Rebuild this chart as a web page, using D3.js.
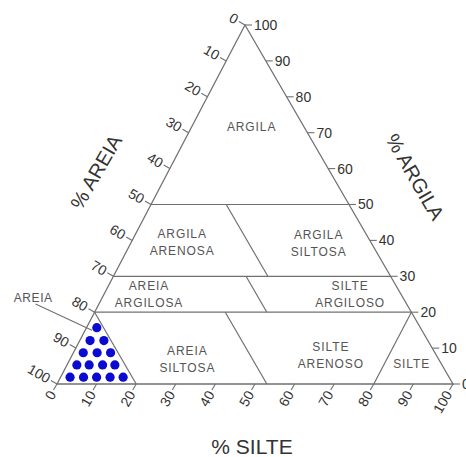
<!DOCTYPE html>
<meta charset="utf-8">
<style>
  body { margin: 0; background: #fff; }
  text { font-family: Arial, "Liberation Sans", sans-serif; }
</style>
<body>
<script src="https://d3js.org/d3.v7.min.js"></script>
<script>

// tick values along each side
var ticks = [0, 10, 20, 30, 40, 50, 60, 70, 80, 90, 100];

// class boundaries, as [clay, silt] end points (sand = 100 - clay - silt)
var boundaryStart = [[50, 0], [30, 0], [20, 0], [50, 19], [30, 33.5], [20, 33], [20, 80], [20, 0]];
var boundaryEnd   = [[50, 50], [30, 70], [20, 80], [30, 39], [20, 43.5], [0, 53], [0, 80], [0, 20]];

// class names and where they sit (clay, silt)
var regionNames = [["ARGILA"], ["ARGILA", "ARENOSA"], ["ARGILA", "SILTOSA"], ["AREIA", "ARGILOSA"],
                   ["SILTE", "ARGILOSO"], ["AREIA", "SILTOSA"], ["SILTE", "ARENOSO"], ["SILTE"]];
var regionClay = [71.7, 39.6, 39.1, 24.9, 25.1, 7.0, 7.9, 5.6];
var regionSilt = [15.1, 12.8, 47.5, 11.4, 62.1, 29.6, 65.4, 86.9];

// sample points in the AREIA class
var dotClay = [1.9, 1.9, 1.9, 1.9, 1.9, 5.3, 5.3, 5.3, 5.3, 8.7, 8.7, 8.7, 12.1, 12.1, 15.7];
var dotSilt = [2.4, 5.8, 9.1, 12.5, 15.8, 2.5, 5.6, 9.0, 12.1, 2.5, 6.0, 9.4, 2.6, 6.1, 2.6];

var width = 466, height = 457;
var lineColor = "#707070";

// corner of 100% sand sits at left of the base
var x0 = 57;
var siltX = d3.scaleLinear().domain([0, 100]).range([0, 396]);
var clayX = d3.scaleLinear().domain([0, 100]).range([0, 188]);
var clayY = d3.scaleLinear().domain([0, 100]).range([384, 25]);

function pt(clay, silt) {
  return [x0 + siltX(silt) + clayX(clay), clayY(clay)];
}

var svg = d3.select("body").append("svg")
    .attr("width", width)
    .attr("height", height);

// outline
var outline = [pt(0, 0), pt(0, 100), pt(100, 0)];
svg.append("path")
    .attr("d", d3.line()(outline) + "Z")
    .attr("fill", "none")
    .attr("stroke", lineColor)
    .attr("stroke-width", 1.3);

// boundaries
svg.selectAll("line.bound")
    .data(boundaryStart)
  .enter().append("line")
    .attr("class", "bound")
    .attr("x1", function(d) { return pt(d[0], d[1])[0]; })
    .attr("y1", function(d) { return pt(d[0], d[1])[1]; })
    .attr("x2", function(d, i) { return pt(boundaryEnd[i][0], boundaryEnd[i][1])[0]; })
    .attr("y2", function(d, i) { return pt(boundaryEnd[i][0], boundaryEnd[i][1])[1]; })
    .attr("stroke", lineColor)
    .attr("stroke-width", 1.2);

// ticks on the three sides
var tickLen = 7, gap = 2;
var sides = [
  { pos: function(v) { return pt(v, 100 - v); }, dir: [1, 0], rot: 0, anchor: "start" },          // clay (right)
  { pos: function(v) { return pt(100 - v, 0); }, dir: [-Math.cos(Math.PI / 6), -0.5], rot: 30, anchor: "end" }, // sand (left)
  { pos: function(v) { return pt(0, v); }, dir: [-0.5, Math.sin(Math.PI / 3)], rot: -60, anchor: "end" }  // silt (bottom)
];

sides.forEach(function(s) {
  var g = svg.append("g");
  ticks.forEach(function(v) {
    var p = s.pos(v);
    var e = [p[0] + s.dir[0] * tickLen, p[1] + s.dir[1] * tickLen];
    var t = [p[0] + s.dir[0] * (tickLen + gap), p[1] + s.dir[1] * (tickLen + gap)];
    g.append("line")
        .attr("x1", p[0]).attr("y1", p[1])
        .attr("x2", e[0]).attr("y2", e[1])
        .attr("stroke", lineColor)
        .attr("stroke-width", 1.1);
    g.append("text")
        .attr("transform", "translate(" + t[0] + "," + t[1] + ") rotate(" + s.rot + ")")
        .attr("text-anchor", s.anchor)
        .attr("dy", "0.35em")
        .style("font-size", "14px")
        .style("fill", "#333")
        .text(v);
  });
});

// dots
svg.selectAll("circle")
    .data(dotClay)
  .enter().append("circle")
    .attr("cx", function(d, i) { return pt(d, dotSilt[i])[0]; })
    .attr("cy", function(d, i) { return pt(d, dotSilt[i])[1]; })
    .attr("r", 4.6)
    .attr("fill", "#0a0ad0");

// class labels
regionNames.forEach(function(lines, i) {
  var p = pt(regionClay[i], regionSilt[i]);
  var t = svg.append("text")
      .attr("x", p[0])
      .attr("y", p[1] - (lines.length - 1) * 8.5)
      .attr("text-anchor", "middle")
      .style("font-size", "12px")
      .style("letter-spacing", "0.9px")
      .style("fill", "#555");
  lines.forEach(function(l, j) {
    t.append("tspan")
        .attr("x", p[0])
        .attr("dy", j == 0 ? "0.35em" : "17px")
        .text(l);
  });
});

// AREIA callout
var c0 = pt(22.3, -16), c1 = pt(15, 1.7);
svg.append("line")
    .attr("x1", c0[0]).attr("y1", c0[1])
    .attr("x2", c1[0]).attr("y2", c1[1])
    .attr("stroke", lineColor)
    .attr("stroke-width", 1.1);
var cl = pt(24, -17.4);
svg.append("text")
    .attr("x", cl[0]).attr("y", cl[1])
    .attr("dy", "0.35em")
    .attr("text-anchor", "middle")
    .style("font-size", "12px")
    .style("letter-spacing", "0.6px")
    .style("fill", "#555")
    .text("AREIA");

// axis titles
svg.append("text")
    .attr("transform", "translate(96,172) rotate(-60)")
    .attr("text-anchor", "middle")
    .attr("dy", "0.35em")
    .style("font-size", "20px")
    .style("fill", "#333")
    .text("% AREIA");

svg.append("text")
    .attr("transform", "translate(415,177) rotate(60)")
    .attr("text-anchor", "middle")
    .attr("dy", "0.35em")
    .style("font-size", "20px")
    .style("fill", "#333")
    .text("% ARGILA");

svg.append("text")
    .attr("x", 252)
    .attr("y", 454)
    .attr("text-anchor", "middle")
    .style("font-size", "21px")
    .style("fill", "#333")
    .text("% SILTE");
</script>
</body>
